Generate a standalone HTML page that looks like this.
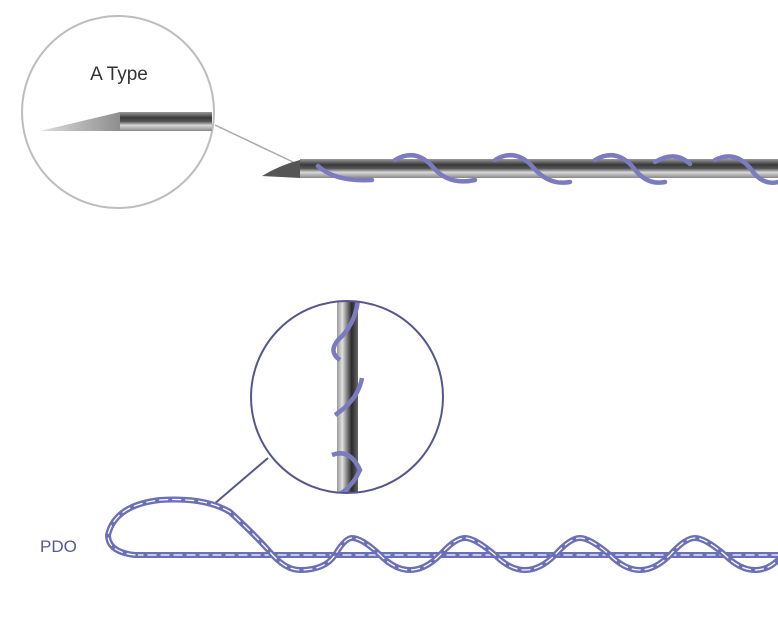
<!DOCTYPE html>
<html><head><style>
html,body{margin:0;padding:0;background:#fff;width:778px;height:633px;overflow:hidden}
</style></head><body>
<svg width="778" height="633" viewBox="0 0 778 633" xmlns="http://www.w3.org/2000/svg">
<defs>
<linearGradient id="nh" x1="0" y1="0" x2="0" y2="1">
<stop offset="0" stop-color="#9a9a9a"/><stop offset="0.3" stop-color="#3a3a3a"/><stop offset="0.5" stop-color="#555"/><stop offset="0.7" stop-color="#d8d8d8"/><stop offset="1" stop-color="#888"/>
</linearGradient>
<linearGradient id="nv" x1="0" y1="0" x2="1" y2="0">
<stop offset="0" stop-color="#999"/><stop offset="0.25" stop-color="#e0e0e0"/><stop offset="0.5" stop-color="#777"/><stop offset="0.7" stop-color="#2a2a2a"/><stop offset="1" stop-color="#666"/>
</linearGradient>
<linearGradient id="tip" x1="0" y1="0" x2="1" y2="0">
<stop offset="0" stop-color="#ddd"/><stop offset="0.6" stop-color="#777"/><stop offset="1" stop-color="#aaa"/>
</linearGradient>
<clipPath id="c2"><circle cx="347" cy="397" r="96"/></clipPath>
</defs>

<circle cx="118" cy="112" r="96" fill="#fff" stroke="#bdbdbd" stroke-width="2"/>
<text x="119" y="80" font-family="Liberation Sans, sans-serif" font-size="19" fill="#333" text-anchor="middle">A Type</text>
<path d="M40 131 L120 112 L212 112 L212 131 Z" fill="url(#tip)"/>
<rect x="120" y="112" width="92" height="19" fill="url(#nh)"/>
<line x1="215" y1="125" x2="293" y2="162" stroke="#aaa" stroke-width="1.5"/>

<path d="M262 176 Q280 165 300 160 L300 178 Z" fill="#555"/>
<rect x="300" y="159" width="478" height="19" fill="url(#nh)"/>
<g fill="none" stroke="#7b7cc0" stroke-width="4.5" stroke-linecap="round">
<path d="M318 166 Q335 182 372 180"/>
<path d="M395 160 Q415 148 432 166 Q448 186 475 180"/>
<path d="M495 160 Q515 148 532 166 Q548 186 570 182"/>
<path d="M595 160 Q615 148 632 166 Q646 186 665 182"/>
<path d="M655 162 Q675 150 690 164"/>
<path d="M715 160 Q735 150 750 168 Q762 186 778 182"/>
</g>

<g clip-path="url(#c2)">
<rect x="337" y="298" width="21" height="200" fill="url(#nv)"/>
<g fill="none" stroke="#7b7cc0" stroke-width="4.5">
<path d="M358 300 Q355 325 338 340 Q328 352 340 360"/>
<path d="M362 378 Q358 400 335 415"/>
<path d="M332 455 Q350 448 360 470 Q352 488 335 497"/>
</g>
</g>
<circle cx="347" cy="397" r="96" fill="none" stroke="#55568f" stroke-width="2"/>
<line x1="268" y1="458" x2="213" y2="505" stroke="#55568f" stroke-width="2"/>

<text x="40" y="552" font-family="Liberation Sans, sans-serif" font-size="17" fill="#55589a">PDO</text>
<g fill="none" stroke-linecap="round">
<path d="M135 555 L778 555" stroke="#6b6fb8" stroke-width="6"/>
<path d="M135 555 L778 555" stroke="#fff" stroke-width="1.3" stroke-dasharray="8 5"/>
<path id="w" d="M135 555 Q108 552 108 535 Q115 505 160 500 Q205 497 230 512 Q255 535 270 552 Q285 570 300 570 Q325 570 335 555 Q345 538 352 538 Q362 538 380 555 Q395 570 410 570 Q425 570 440 555 Q455 538 465 538 Q475 538 495 555 Q510 570 525 570 Q540 570 555 555 Q570 538 580 538 Q590 538 610 555 Q625 570 640 570 Q655 570 670 555 Q685 538 695 538 Q705 538 725 555 Q740 570 755 570 Q768 570 778 560" stroke="#6b6fb8" stroke-width="6"/>
<path d="M135 555 Q108 552 108 535 Q115 505 160 500 Q205 497 230 512 Q255 535 270 552 Q285 570 300 570 Q325 570 335 555 Q345 538 352 538 Q362 538 380 555 Q395 570 410 570 Q425 570 440 555 Q455 538 465 538 Q475 538 495 555 Q510 570 525 570 Q540 570 555 555 Q570 538 580 538 Q590 538 610 555 Q625 570 640 570 Q655 570 670 555 Q685 538 695 538 Q705 538 725 555 Q740 570 755 570 Q768 570 778 560" stroke="#fff" stroke-width="1.3" stroke-dasharray="8 5"/>
</g>
</svg>
</body></html>
